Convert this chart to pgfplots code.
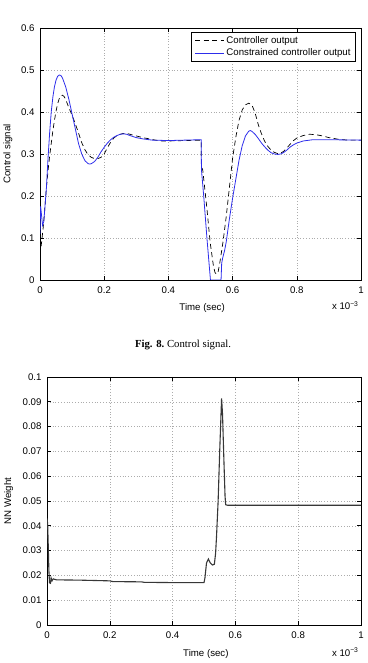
\documentclass[border=0pt]{standalone}
\usepackage{pgfplots}
\pgfplotsset{compat=1.18}
\usepackage{fontspec}
\setmainfont{Liberation Sans}
\newfontfamily\capfont{Liberation Serif}

\definecolor{ctrlblue}{RGB}{45,45,235}
\definecolor{wgray}{RGB}{55,55,55}

% Controller output (unconstrained), time in 1e-3 s
\pgfplotstableread{
t u
0 0.06
0.005 0.09
0.01 0.125
0.015 0.17
0.02 0.22
0.025 0.26
0.03 0.295
0.035 0.325
0.04 0.355
0.045 0.38
0.05 0.402
0.055 0.42
0.06 0.432
0.065 0.438
0.07 0.44
0.075 0.437
0.08 0.43
0.09 0.41
0.1 0.392
0.11 0.372
0.12 0.35
0.13 0.327
0.14 0.31
0.15 0.298
0.16 0.292
0.17 0.289
0.18 0.289
0.19 0.292
0.2 0.3
0.21 0.315
0.22 0.328
0.23 0.338
0.24 0.344
0.25 0.347
0.26 0.349
0.27 0.349
0.28 0.347
0.3 0.343
0.32 0.339
0.34 0.336
0.36 0.333
0.38 0.331
0.4 0.331
0.45 0.332
0.5 0.333
0.502 0.333
0.503 0.27
0.507 0.262
0.52 0.17
0.53 0.09
0.54 0.035
0.545 0.018
0.55 0.014
0.555 0.02
0.56 0.04
0.57 0.09
0.58 0.15
0.59 0.22
0.6 0.29
0.61 0.34
0.62 0.38
0.63 0.405
0.64 0.417
0.65 0.421
0.66 0.417
0.67 0.398
0.68 0.37
0.69 0.348
0.7 0.33
0.71 0.318
0.72 0.309
0.73 0.304
0.74 0.301
0.75 0.302
0.76 0.307
0.77 0.315
0.78 0.324
0.79 0.332
0.8 0.338
0.82 0.344
0.84 0.347
0.86 0.346
0.88 0.343
0.9 0.339
0.93 0.335
0.96 0.333
1.0 0.333
}\ctrlout

% Constrained controller output
\pgfplotstableread{
t u
0 0.11
0.002 0.175
0.004 0.16
0.008 0.13
0.012 0.14
0.016 0.18
0.02 0.22
0.025 0.29
0.03 0.35
0.035 0.4
0.04 0.435
0.045 0.46
0.05 0.476
0.055 0.485
0.06 0.488
0.065 0.487
0.07 0.481
0.08 0.46
0.09 0.43
0.1 0.395
0.11 0.36
0.12 0.325
0.13 0.3
0.14 0.284
0.15 0.277
0.155 0.276
0.16 0.277
0.17 0.282
0.18 0.292
0.19 0.305
0.2 0.316
0.21 0.326
0.22 0.334
0.23 0.34
0.24 0.344
0.25 0.347
0.26 0.348
0.27 0.347
0.28 0.344
0.3 0.339
0.32 0.336
0.35 0.333
0.4 0.332
0.45 0.333
0.5 0.334
0.502 0.334
0.503 0.262
0.51 0.2
0.52 0.1
0.531 0
0.564 0
0.566 0.04
0.569 0.052
0.575 0.07
0.58 0.09
0.59 0.145
0.6 0.195
0.61 0.24
0.62 0.285
0.63 0.32
0.64 0.343
0.65 0.354
0.655 0.356
0.66 0.354
0.67 0.347
0.68 0.337
0.69 0.326
0.7 0.317
0.71 0.309
0.72 0.303
0.73 0.3
0.74 0.299
0.75 0.3
0.76 0.304
0.77 0.31
0.78 0.317
0.79 0.322
0.8 0.326
0.82 0.331
0.85 0.334
0.9 0.334
1.0 0.333
}\ctrlcon

% NN weight
\pgfplotstableread{
t w
0 0.043
0.002 0.041
0.004 0.032
0.006 0.022
0.008 0.017
0.011 0.0168
0.013 0.019
0.016 0.0178
0.02 0.0186
0.03 0.0182
0.1 0.0181
0.2 0.0178
0.21 0.0175
0.3 0.0174
0.31 0.0172
0.4 0.0171
0.5 0.0171
0.503 0.019
0.508 0.025
0.514 0.0266
0.52 0.025
0.527 0.0242
0.533 0.0245
0.537 0.029
0.54 0.036
0.545 0.05
0.55 0.07
0.556 0.0914
0.559 0.085
0.563 0.068
0.567 0.052
0.569 0.0485
0.575 0.0483
1.0 0.0483
}\nnweight

\pgfplotsset{
  matlabaxis/.style={
    scale only axis,
    xmin=0, xmax=1,
    xtick={0,0.2,0.4,0.6,0.8,1},
    xticklabels={0,0.2,0.4,0.6,0.8,1},
    grid=major,
    major grid style={gray!65, line width=0.4bp, dash pattern=on 0.6bp off 2.2bp},
    axis line style={line width=0.8bp},
    tick style={black, line width=0.6bp},
    major tick length=4bp,
    tick align=inside,
    font=\fontsize{9.7}{11}\selectfont,
    /pgf/number format/assume math mode=true,
    xticklabel style={yshift=-3bp},
    yticklabel style={xshift=-2bp},
    xlabel style={anchor=center},
    ylabel style={anchor=center},
  }
}

\begin{document}
\begin{tikzpicture}
\useasboundingbox (0bp,0bp) rectangle (368bp,663bp);

\begin{axis}[matlabaxis,
  at={(40bp,383bp)}, anchor=south west,
  width=321bp, height=252bp,
  ymin=0, ymax=0.6,
  ytick={0,0.1,0.2,0.3,0.4,0.5,0.6},
  yticklabels={0,0.1,0.2,0.3,0.4,0.5,0.6},
  xlabel={Time (sec)}, ylabel={Control signal},
  xlabel style={at={(axis description cs:0.505,-0.111)}},
  ylabel style={at={(axis description cs:-0.1,0.5)}},
  legend style={at={(0.984,0.984)}, anchor=north east, draw=black,
    line width=0.6bp, font=\fontsize{9.7}{11}\selectfont,
    nodes={inner ysep=2bp, inner xsep=2bp}, cells={anchor=west}},
  legend image code/.code={\draw[#1] (0bp,0bp) -- (29bp,0bp);},
]
\addplot[black, line width=0.7bp, dash pattern=on 5bp off 3.5bp] table[x=t,y=u] {\ctrlout};
\addlegendentry{Controller output}
\addplot[ctrlblue, line width=0.8bp] table[x=t,y=u] {\ctrlcon};
\addlegendentry{Constrained controller output}
\end{axis}
\node[anchor=base east, font=\fontsize{9.7}{11}\selectfont] at (362bp,353bp) {x 10\textsuperscript{−3}};

\node[font=\capfont\fontsize{10.8}{12}\selectfont] at (183bp,318bp) {\textbf{Fig. 8.}\ Control signal.};

\begin{axis}[matlabaxis,
  at={(47bp,38bp)}, anchor=south west,
  width=314bp, height=248bp,
  ymin=0, ymax=0.1,
  ytick={0,0.01,0.02,0.03,0.04,0.05,0.06,0.07,0.08,0.09,0.1},
  yticklabels={0,0.01,0.02,0.03,0.04,0.05,0.06,0.07,0.08,0.09,0.1},
  xlabel={Time (sec)}, ylabel={NN Weight},
  xlabel style={at={(axis description cs:0.506,-0.117)}},
  ylabel style={at={(axis description cs:-0.1226,0.5)}},
]
\addplot[wgray, line width=1.1bp] table[x=t,y=w] {\nnweight};
\end{axis}
\node[anchor=base east, font=\fontsize{9.7}{11}\selectfont] at (362bp,7bp) {x 10\textsuperscript{−3}};
\end{tikzpicture}
\end{document}
